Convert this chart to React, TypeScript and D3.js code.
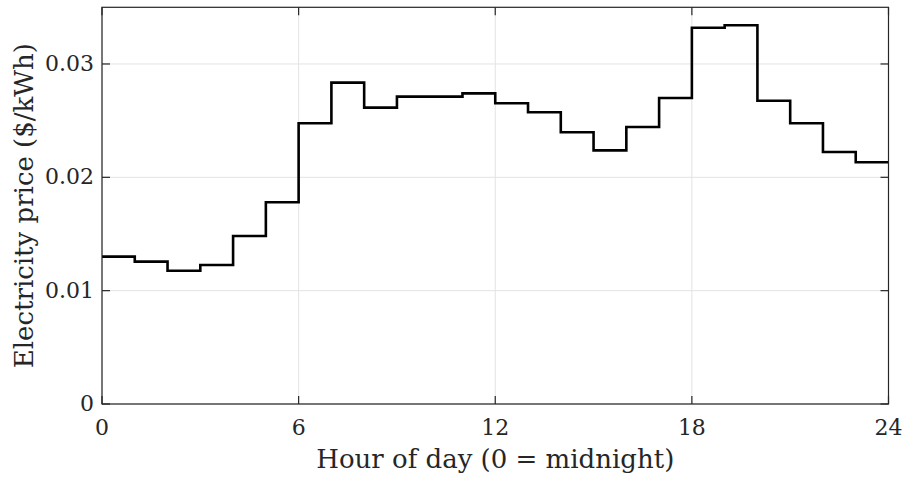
import React from 'react';
import { scaleLinear, line, curveStepAfter } from 'd3';

const hours = [0, 1, 2, 3, 4, 5, 6, 7, 8, 9, 10, 11, 12, 13, 14, 15, 16, 17, 18, 19, 20, 21, 22, 23];
const price = [
  0.0130, 0.01256, 0.01176, 0.01226, 0.01482, 0.0178, 0.02477, 0.02835,
  0.02615, 0.02712, 0.02712, 0.02741, 0.02653, 0.02574, 0.02397, 0.02238,
  0.02444, 0.0270, 0.0332, 0.03341, 0.02676, 0.02477, 0.02224, 0.02133,
];
const xTicks = [0, 6, 12, 18, 24];
const yTicks = [0, 0.01, 0.02, 0.03];
const yTickLabels = ['0', '0.01', '0.02', '0.03'];

const W = 905;
const H = 477;
const left = 102;
const right = 888.5;
const top = 7.3;
const bottom = 404;

const App = () => {
  const x = scaleLinear().domain([0, 24]).range([left, right]);
  const y = scaleLinear().domain([0, 0.035]).range([bottom, top]);

  // stairs: repeat last value at hour 24 so the final step closes
  const pts: [number, number][] = hours.map((h, i) => [h, price[i]]);
  pts.push([24, price[price.length - 1]]);

  const stairs = line<[number, number]>()
    .x((d) => x(d[0]))
    .y((d) => y(d[1]))
    .curve(curveStepAfter);

  const font = '"DejaVu Serif", serif';
  const axisColor = '#262626';
  const gridColor = '#e3e3e3';

  return (
    <div style={{ position: 'absolute', left: 0, top: 0 }}>
      <svg width={W} height={H} style={{ display: 'block', background: '#fff' }}>
        {/* grid */}
        {xTicks.map((t) => (
          <line key={'gx' + t} x1={x(t)} x2={x(t)} y1={top} y2={bottom} stroke={gridColor} strokeWidth={1} />
        ))}
        {yTicks.map((t) => (
          <line key={'gy' + t} x1={left} x2={right} y1={y(t)} y2={y(t)} stroke={gridColor} strokeWidth={1} />
        ))}

        {/* data */}
        <path d={stairs(pts) || ''} fill="none" stroke="#000" strokeWidth={2.6} strokeLinejoin="miter" />

        {/* box */}
        <rect x={left} y={top} width={right - left} height={bottom - top} fill="none" stroke={axisColor} strokeWidth={1.2} />

        {/* ticks */}
        {xTicks.map((t) => (
          <g key={'tx' + t}>
            <line x1={x(t)} x2={x(t)} y1={bottom} y2={bottom - 8} stroke={axisColor} strokeWidth={1.2} />
            <line x1={x(t)} x2={x(t)} y1={top} y2={top + 8} stroke={axisColor} strokeWidth={1.2} />
            <text x={x(t)} y={435} textAnchor="middle" fontFamily={font} fontSize={22} fill={axisColor}>
              {t}
            </text>
          </g>
        ))}
        {yTicks.map((t, i) => (
          <g key={'ty' + t}>
            <line x1={left} x2={left + 8} y1={y(t)} y2={y(t)} stroke={axisColor} strokeWidth={1.2} />
            <line x1={right} x2={right - 8} y1={y(t)} y2={y(t)} stroke={axisColor} strokeWidth={1.2} />
            <text x={94} y={y(t) + 7} textAnchor="end" fontFamily={font} fontSize={22} fill={axisColor}>
              {yTickLabels[i]}
            </text>
          </g>
        ))}

        {/* axis labels */}
        <text x={(left + right) / 2} y={468} textAnchor="middle" fontFamily={font} fontSize={26} fill={axisColor}>
          Hour of day (0 = midnight)
        </text>
        <text
          transform={`translate(33,${(top + bottom) / 2}) rotate(-90)`}
          textAnchor="middle"
          fontFamily={font}
          fontSize={26}
          fill={axisColor}
        >
          Electricity price ($/kWh)
        </text>
      </svg>
    </div>
  );
};

export default App;
